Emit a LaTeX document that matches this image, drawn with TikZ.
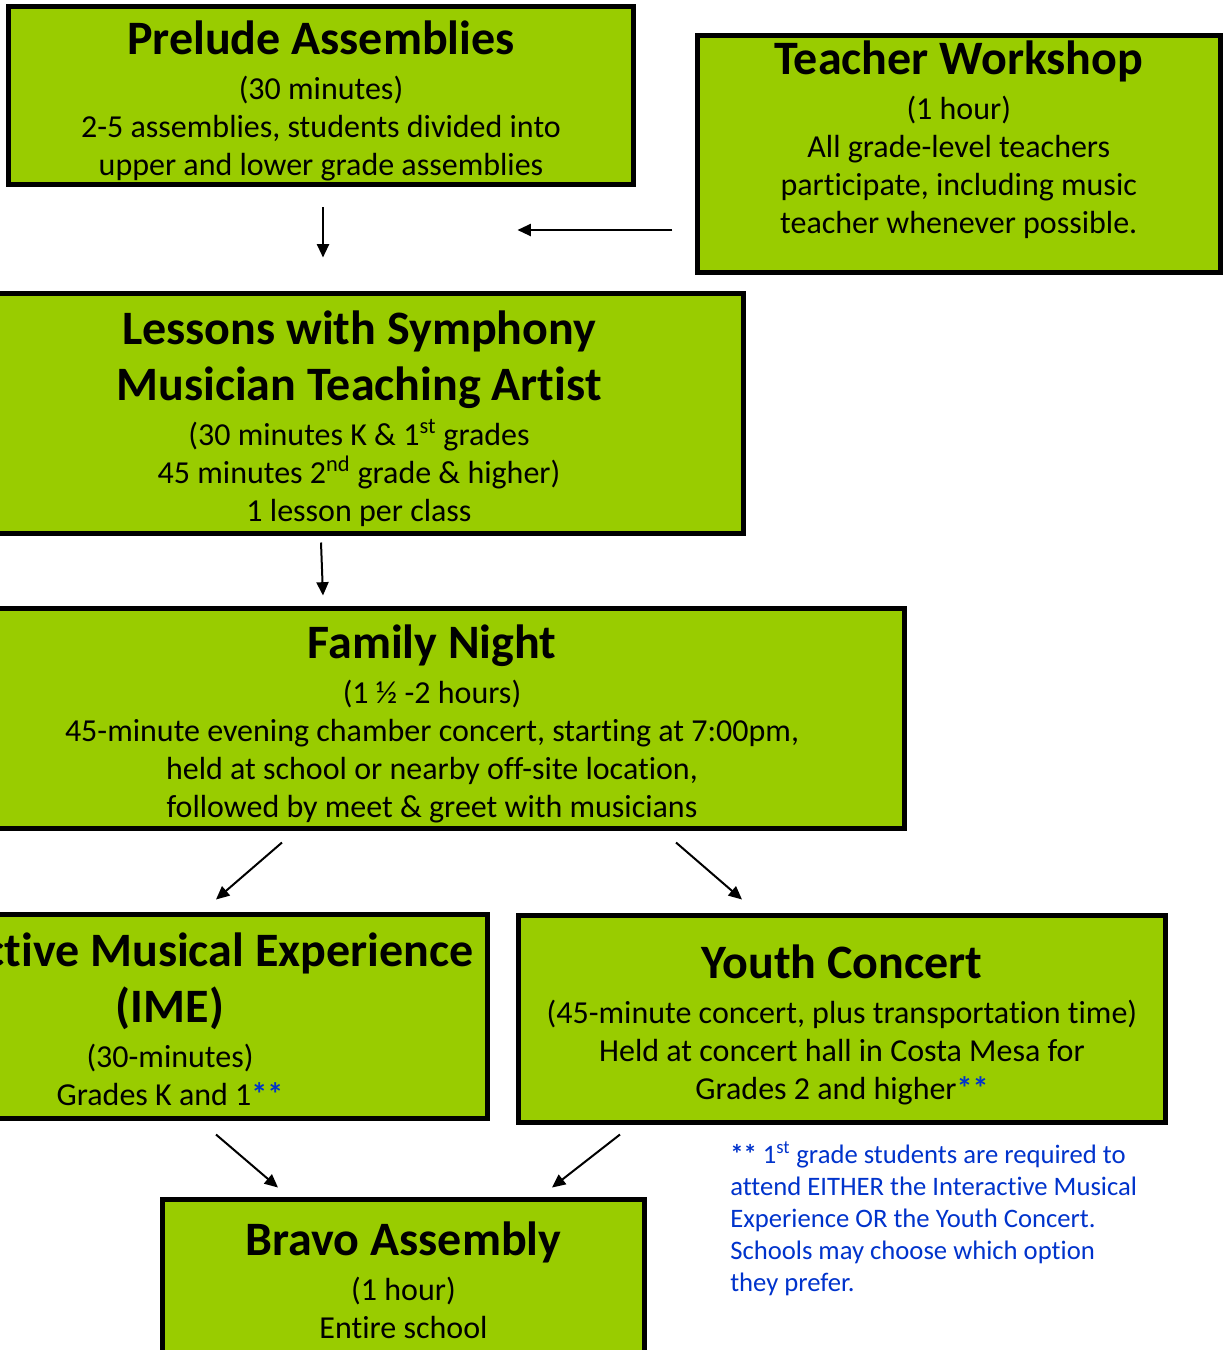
\documentclass[tikz,border=0pt]{standalone}
\usepackage{fontspec}
\setmainfont{Carlito}[Ligatures=NoCommon]
\usetikzlibrary{arrows.meta,calc}

\definecolor{lime}{HTML}{99CC00}
\definecolor{noteblue}{HTML}{0033CC}
\newcommand{\ttlstrut}{\rule[-11.9pt]{0pt}{41pt}}
\newcommand{\topstrut}{\rule[-11.9pt]{0pt}{48.5pt}}
\newcommand{\bodystrut}{\rule[-7pt]{0pt}{27.5pt}}
\newcommand{\ttl}[1]{{\fontsize{36pt}{0pt}\selectfont\bfseries\ttlstrut #1}}
\newcommand{\ttltop}[1]{{\fontsize{36pt}{0pt}\selectfont\bfseries\topstrut #1}}
\newcommand{\twostars}{\textcolor{noteblue}{\bfseries**}}

\begin{document}
\begin{tikzpicture}[x=0.75pt,y=-0.75pt,>={Triangle[length=10pt,width=9pt]},
    stage/.style={draw=black,line width=3.75pt,fill=lime,inner sep=0pt,align=center,
      font=\fontsize{24pt}{0pt}\selectfont},
    flow/.style={->,line width=1.5pt}]
  \path[use as bounding box,fill=white] (0,0) rectangle (1223,1350);
  \clip (0,0) rectangle (1223,1350);
  % boxes
  \node (prelude) at (321,95.5) [stage,minimum width=468.75pt,minimum height=132pt]
    {\ttltop{Prelude Assemblies}\\ \bodystrut(30 minutes)\\
     \bodystrut 2-5 assemblies, students divided into\\
     \bodystrut upper and lower grade assemblies};
  \node (teacher) at (958.75,154) [stage,minimum width=391.9pt,minimum height=177.75pt]
    {\ttl{Teacher Workshop}\\ \bodystrut(1 hour)\\ \bodystrut All grade-level teachers\\
     \bodystrut participate, including music\\
     \rule[-28.75pt]{0pt}{49.25pt}teacher whenever possible.};
  \node (lessons) at (359,413.5) [stage,minimum width=576.75pt,minimum height=180pt]
    {\ttltop{Lessons with Symphony}\\ \ttl{Musician Teaching Artist}\\
     \bodystrut(30 minutes K \& 1\textsuperscript{st} grades\\
     \bodystrut 45 minutes 2\textsuperscript{nd} grade \& higher)\\
     \bodystrut 1 lesson per class};
  \node (family) at (432,718.5) [stage,minimum width=708.75pt,minimum height=165pt]
    {\ttltop{Family Night}\\ \bodystrut(1 ½ -2 hours)\\
     \bodystrut 45-minute evening chamber concert, starting at 7:00pm,\\
     \bodystrut held at school or nearby off-site location,\\
     \bodystrut followed by meet \& greet with musicians};
  \node (ime) at (170,1016.5) [stage,minimum width=476.25pt,minimum height=153pt]
    {\ttltop{Interactive Musical Experience}\\ \ttl{(IME)}\\ \bodystrut(30-minutes)\\
     \bodystrut Grades K and 1\twostars};
  \node (youth) at (842,1019) [stage,minimum width=485.25pt,minimum height=155.25pt]
    {\ttltop{Youth Concert}\\ \bodystrut(45-minute concert, plus transportation time)\\
     \bodystrut Held at concert hall in Costa Mesa for\\
     \bodystrut Grades 2 and higher\twostars};
  \node (bravo) at (403.5,1277.2) [stage,minimum width=361.5pt,minimum height=116.5pt]
    {\ttltop{Bravo Assembly}\\ \bodystrut(1 hour)\\ \bodystrut Entire school};
  \node (note) at (730,1141) [anchor=north west,inner sep=0pt,align=left,text=noteblue,
      font=\fontsize{20pt}{24pt}\selectfont]
    {\textbf{**} 1\textsuperscript{st} grade students are required to\\
     attend EITHER the Interactive Musical\\ Experience OR the Youth Concert.\\
     Schools may choose which option\\ they prefer.};
  % arrows
  \draw[flow] ($(prelude.south)+(2,20)$) -- ($(lessons.north)+(-36,-33.5)$);
  \draw[flow] ($(teacher.west)+(-22.5,76)$) -- ($(teacher.west)+(-177.5,76)$);
  \draw[flow] ($(lessons.south)+(-38,6.5)$) -- ($(family.north)+(-109,-10.5)$);
  \draw[flow] ($(family.south)+(-150,11.5)$) -- ($(ime.north)+(46,-12.5)$);
  \draw[flow] ($(family.south)+(244,11.5)$) -- ($(youth.north)+(-100,-13.5)$);
  \draw[flow] ($(ime.south)+(46,13.5)$) -- ($(bravo.north)+(-125.5,-9.5)$);
  \draw[flow] ($(youth.south)+(-222,9.5)$) -- ($(bravo.north)+(148.5,-9.5)$);
\end{tikzpicture}
\end{document}
